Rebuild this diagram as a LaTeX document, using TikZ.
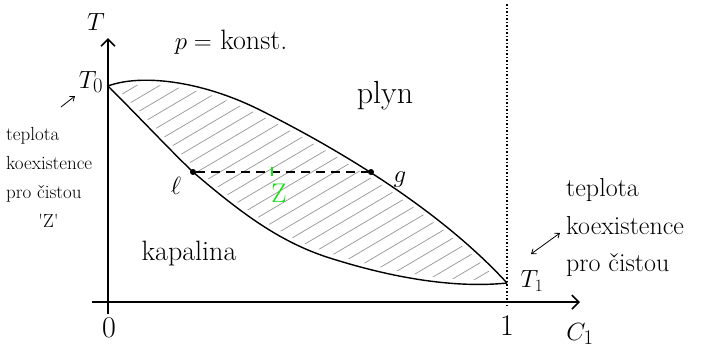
\documentclass[tikz,border=0pt]{standalone}
\usepackage{fontspec}
\setmainfont{Latin Modern Roman}
\usetikzlibrary{arrows.meta}
\definecolor{hatchgray}{RGB}{150,150,150}
\definecolor{zgreen}{RGB}{20,225,20}
\tikzset{
  axis/.style={line width=1.8pt,-{Straight Barb[length=7pt,width=14pt,line width=1.6pt]}},
  curve/.style={line width=1.4pt,black},
  hatchline/.style={line width=0.7pt,hatchgray},
  lbl/.style={inner sep=0pt},
  dotpt/.style={circle,fill=black,inner sep=0pt,minimum size=6pt},
  pointer/.style={line width=0.8pt,-{Straight Barb[length=4pt,width=6pt]}}
}
\newcommand{\fs}[1]{\fontsize{#1}{#1}\selectfont}
\begin{document}
\begin{tikzpicture}[x=1pt,y=-1pt]
\path[fill=white,use as bounding box] (0,0) rectangle (709,360);
% key coordinates
\coordinate (ytop) at (108,38);
\coordinate (ybot) at (108,314);
\coordinate (xleft) at (92,302);
\coordinate (xright) at (580,302);
\coordinate (T0pt) at (108,86);
\coordinate (T1pt) at (507,283);
\coordinate (dtop) at (507,4);
\coordinate (dbot) at (507,306);
% hatching inside the lens
\begin{scope}
\clip (T0pt) .. controls (140,74) and (200,80) .. (260,110)
  .. controls (340,150) and (440,210) .. (T1pt)
  .. controls (460,288) and (400,280) .. (333,259)
  .. controls (280,243) and (240,212) .. (193,172)
  .. controls (170,150) and (140,118) .. (T0pt) -- cycle;
\foreach \c in {-290,-267,...,480}{
  \draw[hatchline] (\c,310) -- (\c+390,80);
}
\end{scope}
% white margin between hatch and boundary
\draw[white,line width=9pt] (T0pt) .. controls (140,74) and (200,80) .. (260,110)
  .. controls (340,150) and (440,210) .. (T1pt);
\draw[white,line width=9pt] (T0pt) .. controls (140,118) and (170,150) .. (193,172)
  .. controls (240,212) and (280,243) .. (333,259)
  .. controls (400,280) and (460,288) .. (T1pt);
% axes
\draw[axis] (ybot) -- (ytop);
\draw[axis] (xleft) -- (xright);
\draw[line width=1.5pt,dotted] (dtop) -- (dbot);
% curves (vapour: upper, liquid: lower)
\draw[curve] (T0pt) .. controls (140,74) and (200,80) .. (260,110)
  .. controls (340,150) and (440,210) .. (T1pt);
\draw[curve] (T0pt) .. controls (140,118) and (170,150) .. (193,172)
  .. controls (240,212) and (280,243) .. (333,259)
  .. controls (400,280) and (460,288) .. (T1pt);
% tie line
\node[dotpt] (l) at (193,172) {};
\node[dotpt] (g) at (371,172) {};
\draw[line width=1.4pt,dash pattern=on 9pt off 6pt] (l) -- (g);
\coordinate (ztop) at (272,167);
\coordinate (zbot) at (272,176);
\draw[zgreen,line width=2.5pt] (ztop) -- (zbot);
\node[lbl,font=\fs{27},text=zgreen] (Z) at (279,193) {Z};
% labels
\node[lbl,font=\fs{30}] (Tlab) at (96,22) {$T$};
\node[lbl,font=\fs{28}] (T0) at (91,82) {$T_0$};
\node[lbl,font=\fs{26}] (T1) at (532,281) {$T_1$};
\node[lbl,font=\fs{30}] (zero) at (109,328) {0};
\node[lbl,font=\fs{30}] (one) at (507,326) {1};
\node[lbl,font=\fs{30}] (C1) at (580,334) {$C_1$};
\node[lbl,font=\fs{28}] (pk) at (231,42) {$p=$ konst.};
\node[lbl,font=\fs{32}] (plyn) at (385,96) {plyn};
\node[lbl,font=\fs{28}] (kap) at (189,254) {kapalina};
\node[lbl,font=\fs{28}] (llab) at (176,186) {$\ell$};
\node[lbl,font=\fs{28}] (glab) at (400,180) {$g$};
\node[lbl,align=left,anchor=west,font=\fontsize{19}{29}\selectfont] (lefttxt) at (6,177) {teplota\\koexistence\\pro čistou\\\hspace*{1.7em}\textquotesingle Z\textquotesingle};
\node[lbl,align=left,anchor=west,font=\fontsize{26}{37.5}\selectfont] (righttxt) at (566,228) {teplota\\koexistence\\pro čistou};
% pointers
\coordinate (pa) at (61,107);
\coordinate (pb) at (75,96);
\draw[pointer] (pa) -- (pb);
\coordinate (pc) at (531,254);
\coordinate (pd) at (560,233);
\draw[line width=0.8pt,{Straight Barb[length=4pt,width=6pt]}-{Straight Barb[length=4pt,width=6pt]}] (pc) -- (pd);
\end{tikzpicture}
\end{document}
